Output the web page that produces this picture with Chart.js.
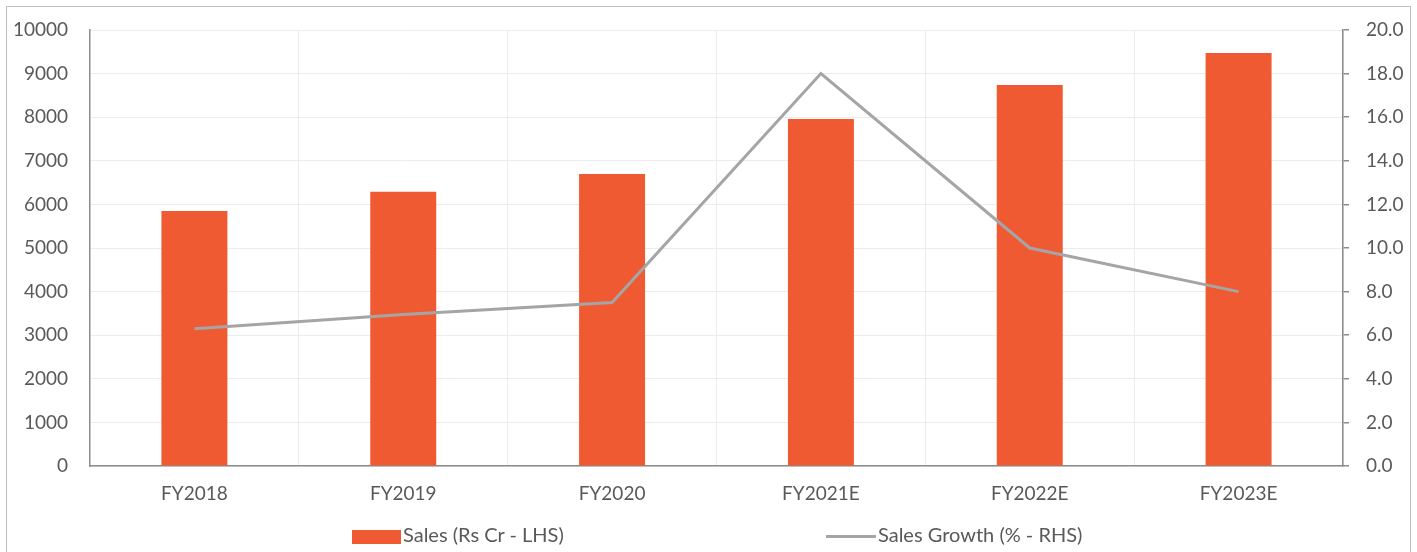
<!DOCTYPE html>
<html>
<head>
<meta charset="utf-8">
<script src="https://cdn.jsdelivr.net/npm/chart.js@4.4.0/dist/chart.umd.min.js"></script>
<style>
  html, body { margin: 0; padding: 0; background: #fff; overflow: hidden; }
  #wrap { position: relative; width: 1417px; height: 552px; }
  #frame { position: absolute; left: 6px; top: 6px; width: 1405px; height: 600px; border: 1px solid #bfbfbf; box-sizing: border-box; }
  #chart { position: absolute; left: 0; top: 0; }
  .legend { position: absolute; top: 522px; font-family: Lato, sans-serif; font-size: 20px; color: #595959; white-space: nowrap; line-height: 24px; }
  .swatch { display: inline-block; vertical-align: middle; margin-right: 2px; }
</style>
</head>
<body>
<div id="wrap">
  <div id="frame"></div>
  <canvas id="chart" width="1417" height="552"></canvas>
  <div class="legend" id="legSales" style="left:352px;"><span class="swatch" id="swSales" style="width:49px;height:14px;"></span><span id="txtSales"></span></div>
  <div class="legend" id="legGrowth" style="left:826px;"><span class="swatch" id="swGrowth" style="width:50px;height:3px;"></span><span id="txtGrowth"></span></div>
</div>
<script>
// Categories and series
const years = ['FY2018', 'FY2019', 'FY2020', 'FY2021E', 'FY2022E', 'FY2023E'];
const sales = [5850, 6290, 6700, 7960, 8740, 9470];
const salesGrowth = [6.3, 6.95, 7.5, 18.0, 10.0, 8.0];
const leftTicks = [0, 1000, 2000, 3000, 4000, 5000, 6000, 7000, 8000, 9000, 10000];
const rightTicks = [0, 2, 4, 6, 8, 10, 12, 14, 16, 18, 20];
const seriesNames = ['Sales (Rs Cr - LHS)', 'Sales Growth (% - RHS)'];

const barColor = '#F05A32';
const lineColor = '#A5A5A5';
const textColor = '#595959';
const axisColor = '#8c8c8c';
const gridColor = '#ececec';

// Legend (HTML, under the chart)
document.getElementById('swSales').style.background = barColor;
document.getElementById('swGrowth').style.background = lineColor;
document.getElementById('txtSales').textContent = seriesNames[0];
document.getElementById('txtGrowth').textContent = seriesNames[1];

const tickFont = { family: 'Lato, sans-serif', size: 19 };

const ctx = document.getElementById('chart').getContext('2d');
const chart = new Chart(ctx, {
  type: 'bar',
  data: {
    labels: years,
    datasets: [
      {
        type: 'line',
        label: seriesNames[1],
        data: salesGrowth,
        yAxisID: 'y1',
        borderColor: lineColor,
        backgroundColor: lineColor,
        borderWidth: 3,
        pointRadius: 0,
        tension: 0,
        order: 0
      },
      {
        type: 'bar',
        label: seriesNames[0],
        data: sales,
        yAxisID: 'y',
        backgroundColor: barColor,
        borderWidth: 0,
        barPercentage: 0.316,
        categoryPercentage: 1,
        order: 1
      }
    ]
  },
  options: {
    responsive: false,
    animation: false,
    events: [],
    layout: { padding: { top: 30, left: 0, right: 0, bottom: 0 } },
    plugins: {
      legend: { display: false },
      tooltip: { enabled: false }
    },
    scales: {
      x: {
        offset: true,
        grid: { offset: true, color: gridColor, drawTicks: false },
        border: { color: axisColor, width: 1.5 },
        ticks: { color: textColor, font: tickFont, padding: 16, maxRotation: 0 },
        afterFit: function (scale) { scale.height = 86; }
      },
      y: {
        position: 'left',
        min: 0,
        max: 10000,
        afterBuildTicks: function (scale) { scale.ticks = leftTicks.map(v => ({ value: v })); },
        grid: { color: gridColor, drawTicks: false },
        border: { color: axisColor, width: 1.5 },
        ticks: {
          color: textColor,
          font: tickFont,
          padding: 22,
          callback: function (v) { return String(v); }
        },
        afterFit: function (scale) { scale.width = 90; scale.paddingTop = 0; scale.paddingBottom = 0; }
      },
      y1: {
        position: 'right',
        min: 0,
        max: 20,
        afterBuildTicks: function (scale) { scale.ticks = rightTicks.map(v => ({ value: v })); },
        grid: { drawOnChartArea: false, color: axisColor, tickLength: 6, lineWidth: 1.5 },
        border: { color: axisColor, width: 1.5 },
        ticks: {
          color: textColor,
          font: tickFont,
          padding: 17,
          callback: function (v) { return Number(v).toFixed(1); }
        },
        afterFit: function (scale) { scale.width = 74; scale.paddingTop = 0; scale.paddingBottom = 0; }
      }
    }
  }
});
</script>
</body>
</html>
